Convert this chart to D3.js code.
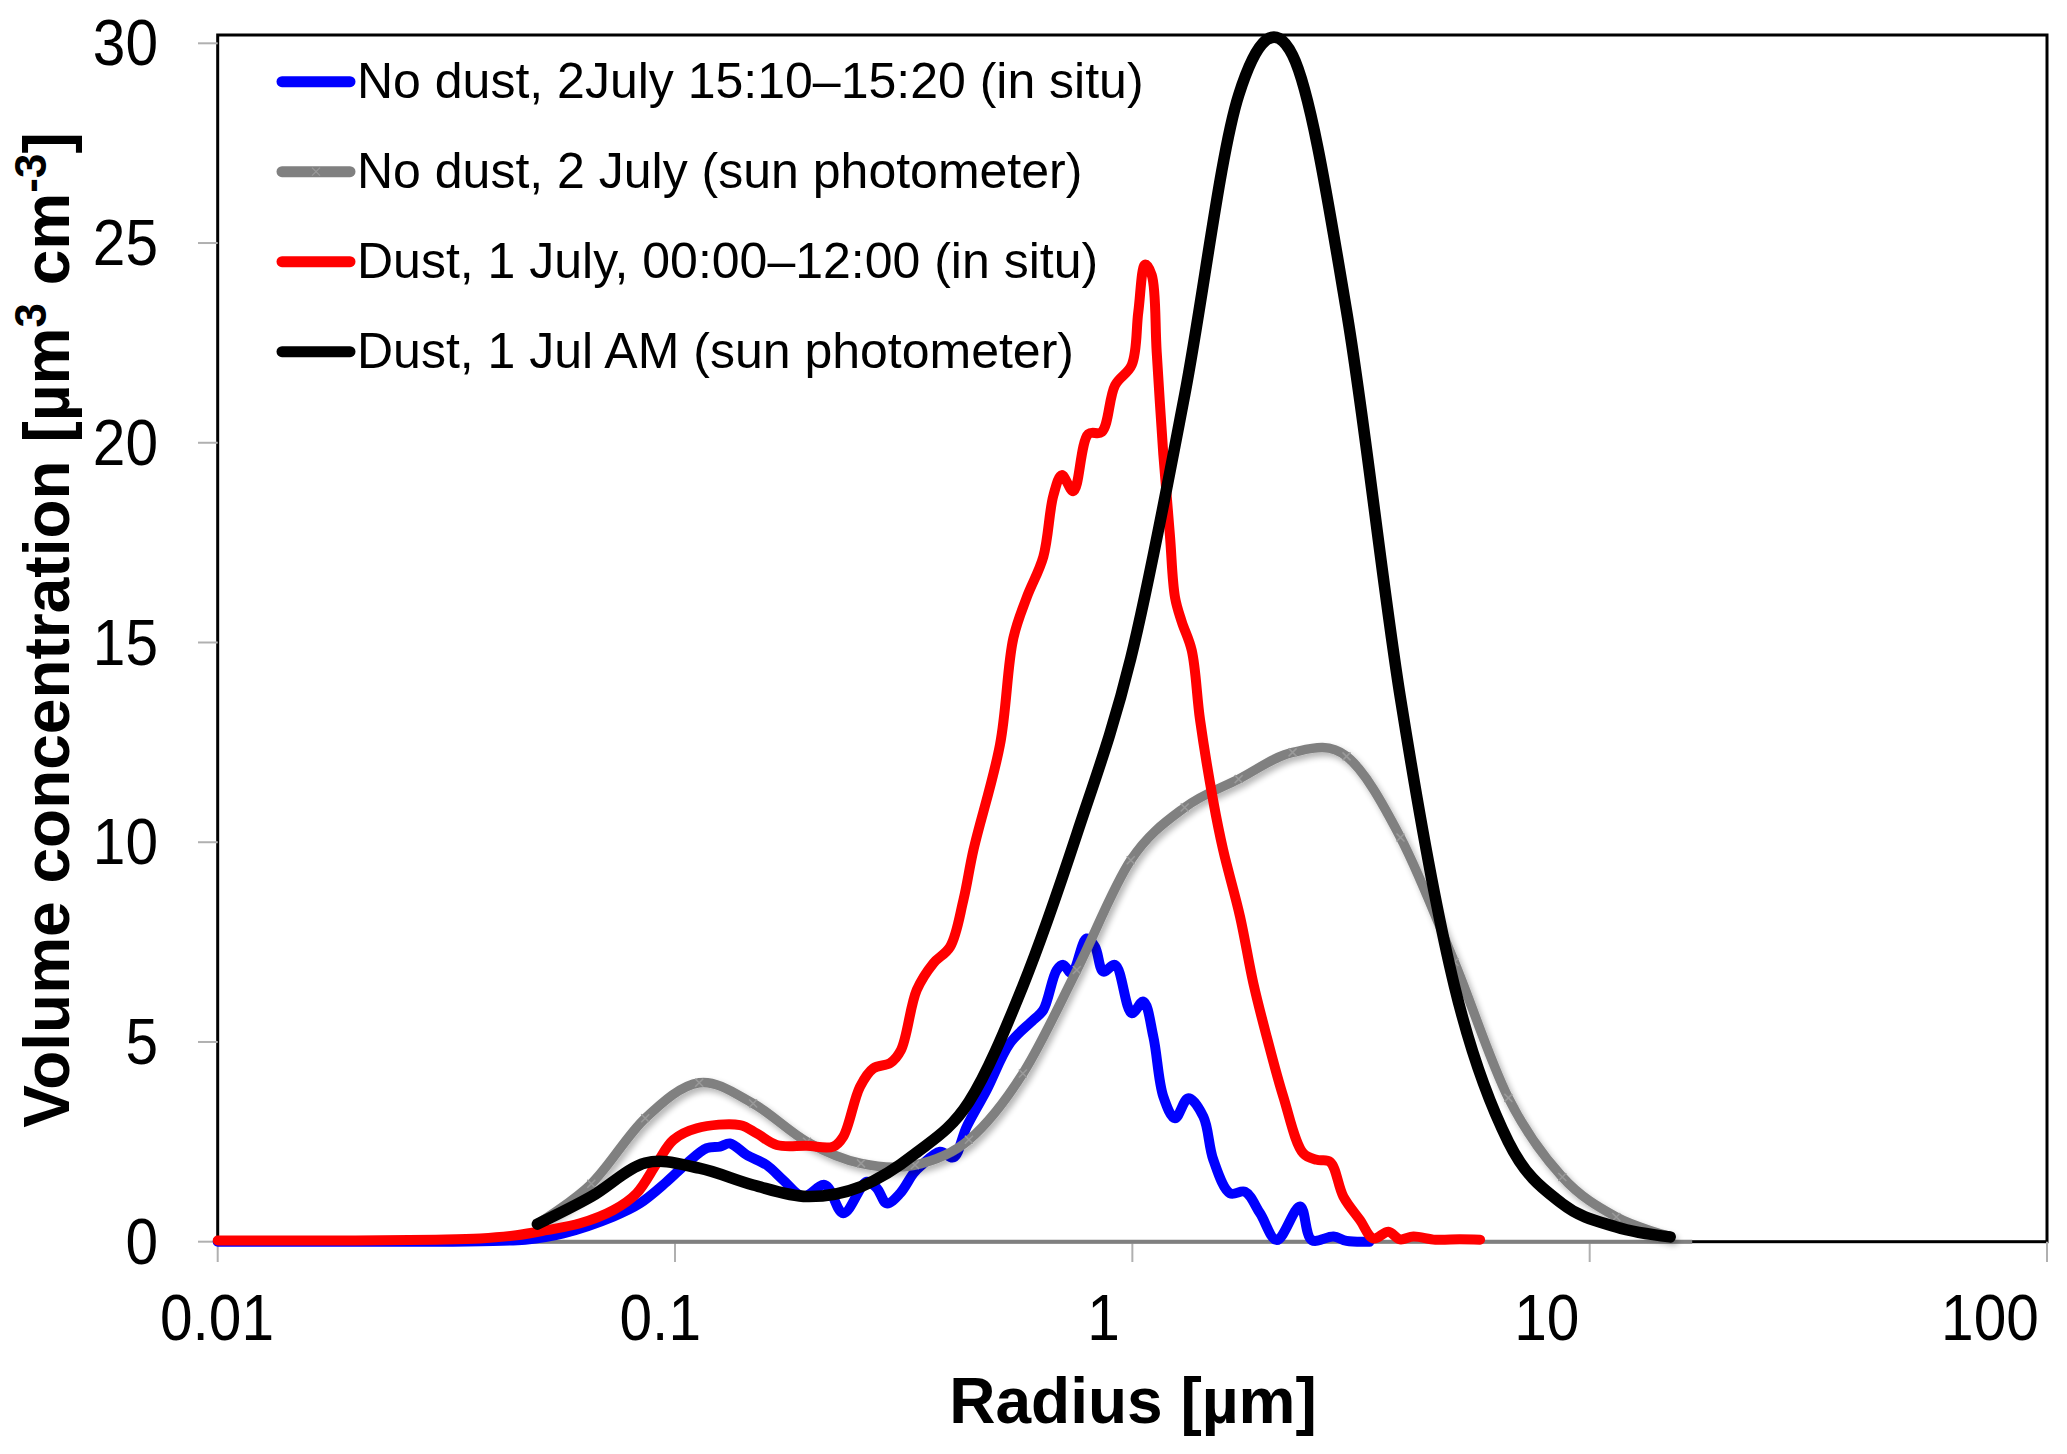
<!DOCTYPE html>
<html>
<head>
<meta charset="utf-8">
<script src="https://cdn.jsdelivr.net/npm/d3@7"></script>
<style>
  html, body { margin: 0; padding: 0; background: #fff; }
  svg { display: block; }
  text { font-family: "Liberation Sans", Arial, sans-serif; fill: #000; }
</style>
</head>
<body>
<svg id="chart" width="2067" height="1454"></svg>
<script>
// ---------------- data ----------------
const xTicks = [0.01, 0.1, 1, 10, 100];
const xTickLabels = ["0.01", "0.1", "1", "10", "100"];
const yTicks = [0, 5, 10, 15, 20, 25, 30];

const seriesNames = [
  "No dust, 2July 15:10\u201315:20 (in situ)",
  "No dust, 2 July (sun photometer)",
  "Dust, 1 July, 00:00\u201312:00 (in situ)",
  "Dust, 1 Jul AM (sun photometer)"
];
const seriesColors = ["#0000ff", "#808080", "#ff0000", "#000000"];

// sun photometer size bins (radius, µm)
const sunBins = [0.05, 0.065604, 0.086077, 0.112939, 0.148184, 0.194429, 0.255105,
  0.334716, 0.439173, 0.576227, 0.756052, 0.991996, 1.301571, 1.707757, 2.240702,
  2.939966, 3.857452, 5.06126, 6.640745, 8.713145, 11.432287, 15.0];
const noDustSunV = [0.45, 1.45, 3.09, 3.98, 3.46, 2.50, 1.96, 1.92, 2.55, 4.21, 6.80,
  9.55, 10.87, 11.58, 12.25, 12.15, 10.12, 7.0, 3.6, 1.62, 0.62, 0.13];
const dustSunV = [0.44, 1.13, 1.97, 1.84, 1.42, 1.13, 1.38, 2.2, 3.5, 6.4, 10.2,
  14.6, 21.2, 28.7, 29.7, 23.3, 13.6, 6.4, 2.5, 0.95, 0.37, 0.12];

// in situ, no dust
const noDustInSituR = [0.01, 0.03, 0.04, 0.047, 0.057, 0.0733, 0.0838, 0.0959, 0.1061,
  0.1173, 0.1254, 0.1319, 0.1435, 0.1586, 0.1725, 0.1908, 0.2128, 0.2333, 0.2626,
  0.2761, 0.2904, 0.3105, 0.3321, 0.3434, 0.3797, 0.4061, 0.4344, 0.4803, 0.5401,
  0.6072, 0.6387, 0.6833, 0.7064, 0.737, 0.7941, 0.8288, 0.8641, 0.9167, 0.997,
  1.0568, 1.1115, 1.1689, 1.2396, 1.3257, 1.4298, 1.5034, 1.6356, 1.7639, 1.9023,
  2.0695, 2.3271, 2.4682, 2.7528, 2.94, 3.3];
const noDustInSituV = [0.0, 0.0, 0.02, 0.05, 0.21, 0.63, 0.96, 1.50, 1.96,
  2.34, 2.38, 2.46, 2.17, 1.92, 1.54, 1.13, 1.42, 0.71, 1.50,
  1.34, 0.96, 1.21, 1.71, 1.88, 2.25, 2.11, 2.88, 3.80, 4.97,
  5.55, 5.80, 6.80, 6.93, 6.72, 7.59, 7.38, 6.76, 6.93, 5.72,
  6.01, 5.13, 3.63, 3.09, 3.59, 3.13, 2.05, 1.21, 1.25, 0.71,
  0.04, 0.88, 0.04, 0.13, 0.02, 0.0];

// in situ, dust
const dustInSituR = [0.01, 0.02, 0.03, 0.0375, 0.045, 0.0524, 0.062, 0.0733, 0.0824,
  0.0912, 0.0992, 0.1116, 0.1387, 0.1509, 0.1669, 0.1941, 0.2219, 0.2333, 0.2538,
  0.2714, 0.2953, 0.312, 0.3377, 0.3671, 0.3994, 0.4271, 0.4492, 0.5137, 0.5493,
  0.5876, 0.6389, 0.6719, 0.7009, 0.743, 0.8014, 0.8573, 0.9167, 0.997, 1.0306,
  1.0661, 1.1025, 1.1306, 1.1689, 1.2086, 1.2396, 1.2823, 1.3486, 1.4063, 1.5034,
  1.58, 1.7198, 1.8389, 1.9673, 2.1386, 2.3652, 2.5306, 2.7059, 2.8934, 3.1469,
  3.3651, 3.6302, 3.8482, 4.1176, 4.6, 5.2, 5.76];
const dustInSituV = [0.03, 0.03, 0.05, 0.08, 0.16, 0.29, 0.46, 0.79, 1.21,
  1.96, 2.55, 2.84, 2.92, 2.71, 2.42, 2.40, 2.38, 2.63, 3.88,
  4.34, 4.47, 4.8, 6.30, 6.97, 7.38, 8.55, 9.80, 12.45, 15.11,
  16.13, 17.15, 18.68, 19.19, 18.79, 20.22, 20.27, 21.44, 21.95, 23.28,
  24.46, 24.2, 22.26, 19.70, 17.66, 16.13, 15.52, 14.80, 13.06, 11.02,
  9.80, 8.14, 6.47, 5.13, 3.63, 2.21, 2.05, 2.00, 1.13, 0.54,
  0.08, 0.25, 0.06, 0.13, 0.05, 0.06, 0.05];

// ---------------- chart ----------------
(function () {
const svg = d3.select("#chart");
svg.append("rect").attr("width", 2067).attr("height", 1454).attr("fill", "#fff");

const pL = 217.7, pR = 2047, pT = 35, pB = 1241.7;
const x = d3.scaleLog().domain([0.01, 100]).range([pL, pR]);
const y = d3.scaleLinear().domain([0, 30]).range([pB, 43.3]);
// Excel places log-axis labels slightly compressed toward the left
const xLab = d3.scaleLog().domain([0.01, 100]).range([217, 1990]);

const defs = svg.append("defs");
const sh = defs.append("filter").attr("id", "shadow")
  .attr("x", "-5%").attr("y", "-5%").attr("width", "110%").attr("height", "110%");
sh.append("feGaussianBlur").attr("in", "SourceAlpha").attr("stdDeviation", 3).attr("result", "b");
sh.append("feOffset").attr("in", "b").attr("dx", 3).attr("dy", 4).attr("result", "o");
sh.append("feComponentTransfer").attr("in", "o").attr("result", "o2")
  .append("feFuncA").attr("type", "linear").attr("slope", 0.3);
const mg = sh.append("feMerge");
mg.append("feMergeNode").attr("in", "o2");
mg.append("feMergeNode").attr("in", "SourceGraphic");

// frame
svg.append("rect")
  .attr("x", pL).attr("y", pT)
  .attr("width", pR - pL).attr("height", pB - pT)
  .attr("fill", "none").attr("stroke", "#000").attr("stroke-width", 3);

// y ticks
svg.append("g").selectAll("line").data(yTicks).join("line")
  .attr("x1", 198).attr("x2", pL)
  .attr("y1", d => y(d)).attr("y2", d => y(d))
  .attr("stroke", "#b0b0b0").attr("stroke-width", 2);
svg.append("g").selectAll("text").data(yTicks).join("text")
  .attr("text-anchor", "end")
  .attr("font-size", 63)
  .attr("transform", d => `translate(158,${y(d) + 22}) scale(0.93,1.02)`)
  .text(d => d);

// x ticks
svg.append("g").selectAll("line").data(xTicks).join("line")
  .attr("x1", d => x(d)).attr("x2", d => x(d))
  .attr("y1", pB).attr("y2", 1262)
  .attr("stroke", "#b0b0b0").attr("stroke-width", 2);
svg.append("g").selectAll("text").data(xTicks).join("text")
  .attr("text-anchor", "middle")
  .attr("font-size", 63)
  .attr("transform", d => `translate(${xLab(d)},1340) scale(0.93,1.02)`)
  .text((d, i) => xTickLabels[i]);

// gray horizontal axis line (over the frame up to end of the sun-photometer data)
svg.append("line")
  .attr("x1", pL).attr("x2", x(sunBins[sunBins.length - 1]) + 22)
  .attr("y1", pB).attr("y2", pB)
  .attr("stroke", "#808080").attr("stroke-width", 4);

// axis titles
svg.append("text")
  .attr("x", 1133).attr("y", 1423)
  .attr("text-anchor", "middle")
  .attr("font-size", 64).attr("font-weight", "bold")
  .text("Radius [\u00b5m]");

const yt = svg.append("text")
  .attr("transform", "translate(69,630) rotate(-90)")
  .attr("text-anchor", "middle")
  .attr("font-size", 64).attr("font-weight", "bold");
yt.append("tspan").text("Volume concentration [\u00b5m");
yt.append("tspan").attr("dy", -23).attr("font-size", 44).text("3");
yt.append("tspan").attr("dy", 23).text(" cm");
yt.append("tspan").attr("dy", -23).attr("font-size", 44).text("-3");
yt.append("tspan").attr("dy", 23).text("]");

// lines
const zip = (a, b) => a.map((v, i) => [v, b[i]]);
const lineCR = d3.line().x(d => x(d[0])).y(d => y(d[1])).curve(d3.curveCatmullRom.alpha(0.5));
const lineSm = d3.line().x(d => x(d[0])).y(d => y(d[1])).curve(d3.curveCardinal.tension(0));

const plot = svg.append("g");
plot.append("path")
  .attr("d", lineCR(zip(noDustInSituR, noDustInSituV)))
  .attr("fill", "none").attr("stroke", seriesColors[0]).attr("stroke-width", 10)
  .attr("stroke-linejoin", "round").attr("stroke-linecap", "round");

const gGray = plot.append("g").attr("filter", "url(#shadow)");
gGray.append("path")
  .attr("d", lineSm(zip(sunBins, noDustSunV)))
  .attr("fill", "none").attr("stroke", seriesColors[1]).attr("stroke-width", 9.5)
  .attr("stroke-linejoin", "round").attr("stroke-linecap", "round");
gGray.selectAll("path.mk").data(zip(sunBins, noDustSunV)).join("path")
  .attr("class", "mk")
  .attr("d", d => `M${x(d[0]) - 4},${y(d[1]) - 4}L${x(d[0]) + 4},${y(d[1]) + 4}M${x(d[0]) - 4},${y(d[1]) + 4}L${x(d[0]) + 4},${y(d[1]) - 4}`)
  .attr("stroke", "#9a9a9a").attr("stroke-width", 1.5);

plot.append("path")
  .attr("d", lineCR(zip(dustInSituR, dustInSituV)))
  .attr("fill", "none").attr("stroke", seriesColors[2]).attr("stroke-width", 10)
  .attr("stroke-linejoin", "round").attr("stroke-linecap", "round");

plot.append("path")
  .attr("d", lineSm(zip(sunBins, dustSunV)))
  .attr("fill", "none").attr("stroke", seriesColors[3]).attr("stroke-width", 11.5)
  .attr("stroke-linejoin", "round").attr("stroke-linecap", "round");

// legend
const leg = svg.append("g");
seriesNames.forEach((name, i) => {
  const cy = 81.7 + i * 90;
  leg.append("line")
    .attr("x1", 282).attr("x2", 350).attr("y1", cy).attr("y2", cy)
    .attr("stroke", seriesColors[i]).attr("stroke-width", 11).attr("stroke-linecap", "round");
  if (i === 1) {
    leg.append("path")
      .attr("d", `M312,${cy - 4}L320,${cy + 4}M312,${cy + 4}L320,${cy - 4}`)
      .attr("stroke", "#9a9a9a").attr("stroke-width", 1.2);
  }
  leg.append("text")
    .attr("x", 357).attr("y", cy + 16.6)
    .attr("font-size", 50)
    .text(name);
});
})();
</script>
</body>
</html>
